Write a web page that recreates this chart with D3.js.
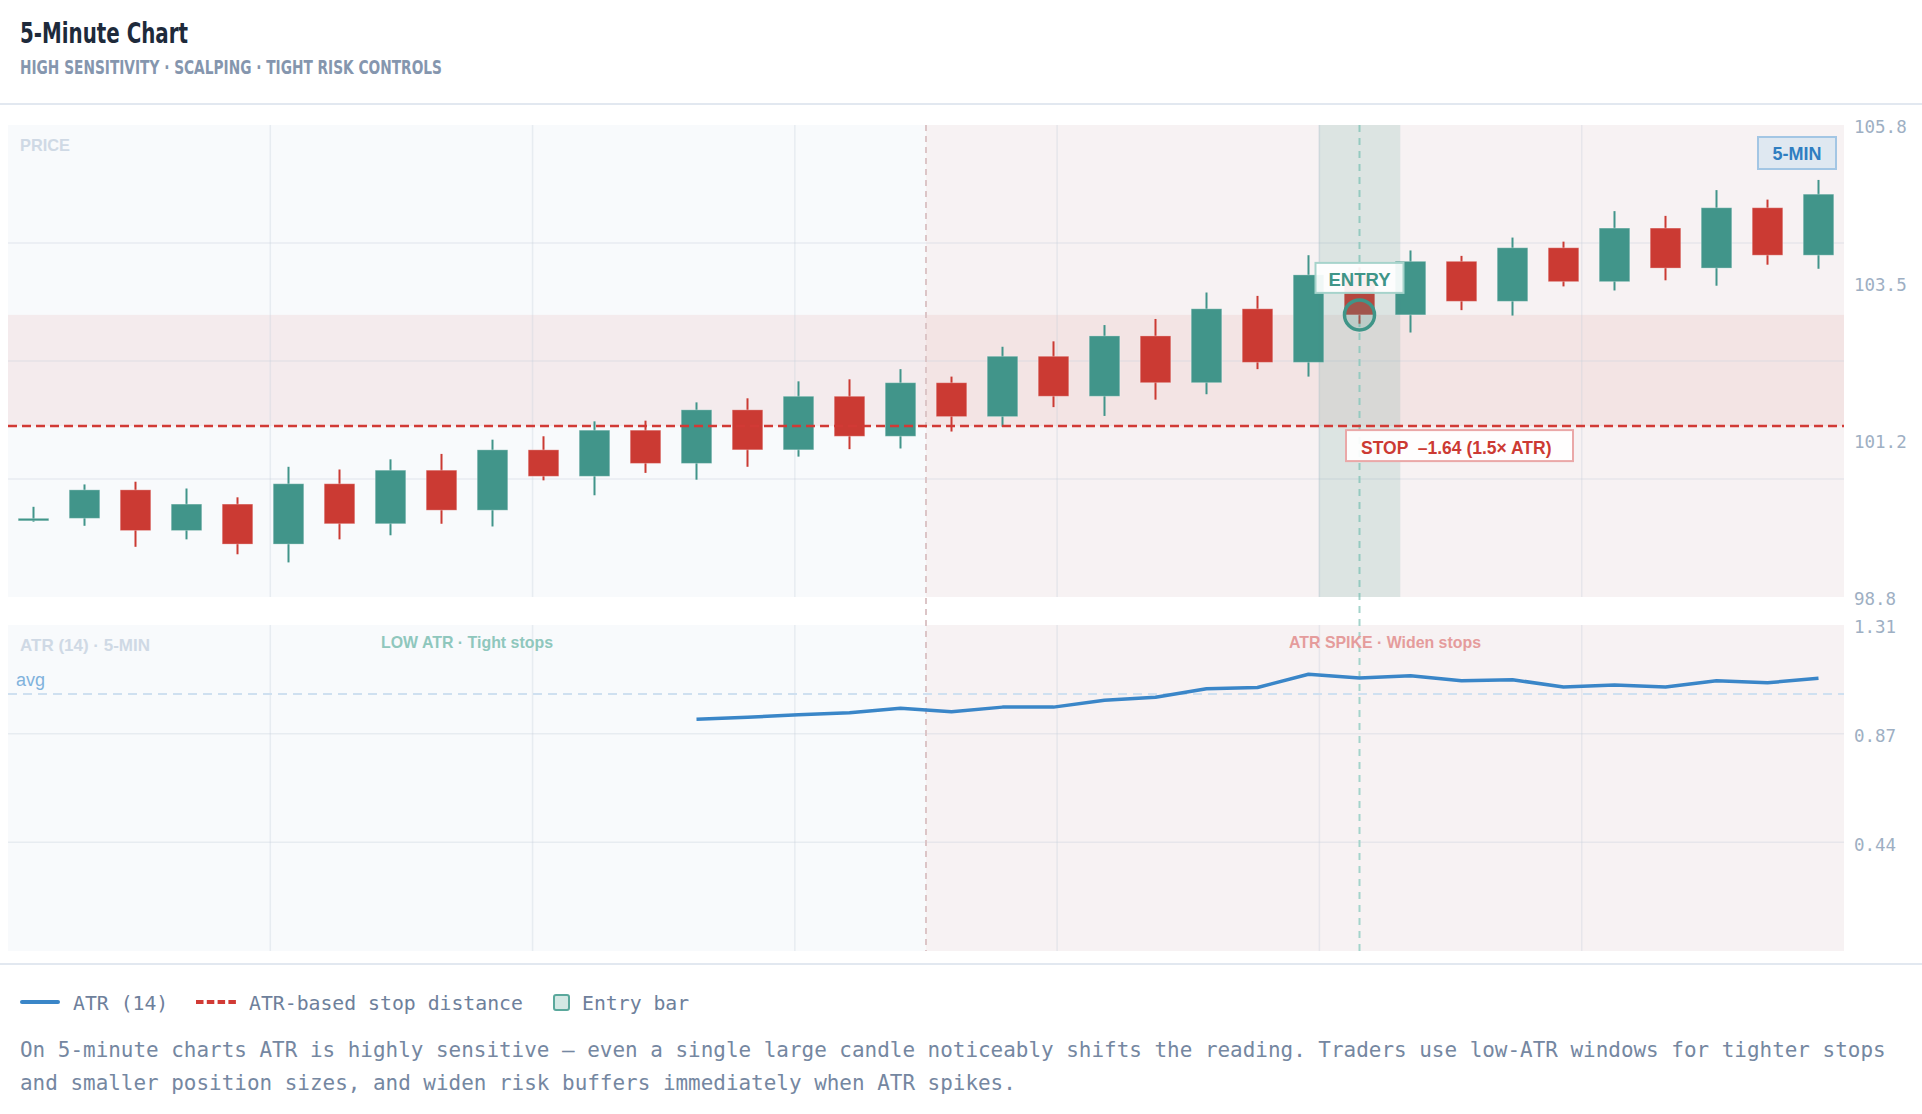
<!DOCTYPE html>
<html><head><meta charset="utf-8">
<script src="https://cdn.jsdelivr.net/npm/d3@7"></script>
<style>html,body{margin:0;padding:0;background:#fff;overflow:hidden}svg{display:block}</style>
</head><body><svg id="c" width="1922" height="1114"></svg>
<script>
// ---------- DATA ----------
const barIndex = [0,1,2,3,4,5,6,7,8,9,10,11,12,13,14,15,16,17,18,19,20,21,22,23,24,25,26,27,28,29,30,31,32,33,34,35];
const opens  = [100.00,100.00,100.42,99.82,100.21,99.62,100.51,99.92,100.71,100.12,101.01,100.62,101.30,100.81,101.60,101.01,101.80,101.21,102.00,101.50,102.39,101.80,102.69,102.00,103.09,102.30,103.59,103.00,103.79,103.20,103.99,103.49,104.28,103.69,104.58,103.88];
const highs  = [100.17,100.50,100.54,100.44,100.31,100.76,100.72,100.87,100.95,101.16,101.21,101.43,101.44,101.71,101.77,102.02,102.05,102.20,102.09,102.53,102.61,102.85,102.94,103.33,103.28,103.88,103.70,103.95,103.87,104.14,104.08,104.53,104.46,104.84,104.70,104.99];
const lows   = [99.95,99.89,99.58,99.69,99.47,99.35,99.69,99.75,99.92,99.88,100.56,100.34,100.67,100.57,100.76,100.91,101.02,101.03,101.28,101.35,101.64,101.51,101.75,101.83,102.20,102.09,102.87,102.74,103.07,102.99,103.42,103.36,103.51,103.43,103.74,103.68];
const closes = [100.00,100.42,99.82,100.21,99.62,100.51,99.92,100.71,100.12,101.01,100.62,101.30,100.81,101.60,101.01,101.80,101.21,102.00,101.50,102.39,101.80,102.69,102.00,103.09,102.30,103.59,103.00,103.79,103.20,103.99,103.49,104.28,103.69,104.58,103.88,104.78];
const atr14  = [null,null,null,null,null,null,null,null,null,null,null,null,null,0.931,0.939,0.949,0.957,0.975,0.961,0.980,0.980,1.008,1.020,1.054,1.059,1.112,1.097,1.106,1.086,1.090,1.061,1.069,1.061,1.086,1.078,1.096];
const priceDomain = [98.84, 105.8];
const priceTickLabels = ["105.8","103.5","101.2","98.8"];
const atrDomain = [0, 1.31];
const atrTickLabels = ["1.31","0.87","0.44"];
const entryIndex = 26;
const regimeStart = 18;
const entryPrice = 103.00;
const stopDistance = 1.64;
const atrMultiple = 1.5;
const legendItems = ["ATR (14)","ATR-based stop distance","Entry bar"];
const noteLines = [
  "On 5-minute charts ATR is highly sensitive — even a single large candle noticeably shifts the reading. Traders use low-ATR windows for tighter stops",
  "and smaller position sizes, and widen risk buffers immediately when ATR spikes."
];

// ---------- LAYOUT ----------
const L = 8, R = 1844, PT = 125, PB = 597, AT = 625, AB = 951;
const UP = "#41958a", DOWN = "#cb3a33", TEAL = "#3f9588", BLUE = "#3a86c8", STOPC = "#d13a35";
const SANS = "'Liberation Sans', Arial, sans-serif";
const NARROW = "'Liberation Sans Narrow','DejaVu Sans Condensed','Liberation Sans',sans-serif";
const MONO = "'DejaVu Sans Mono','Liberation Mono',monospace";

const svg = d3.select("#c");
const x = d3.scaleBand().domain(barIndex).range([L, R]).paddingInner(0.4).paddingOuter(0.2);
const step = x.step(), bw = x.bandwidth();
const cx = i => x(i) + bw / 2;
const edge = i => x(i) - (step - bw) / 2;
const yP = d3.scaleLinear().domain(priceDomain).range([PB, PT]);
const yA = d3.scaleLinear().domain(atrDomain).range([AB, AT]);
const gx = d3.scaleLinear().domain([0, 7]).range([L, R]);

// header
svg.append("text").attr("x", 20).attr("y", 43).text("5-Minute Chart")
  .attr("font-family", NARROW).attr("font-weight", 700).attr("font-size", 28)
  .attr("fill", "#1e2a3b").attr("textLength", 168).attr("lengthAdjust", "spacingAndGlyphs");
svg.append("text").attr("x", 20).attr("y", 74).text("HIGH SENSITIVITY · SCALPING · TIGHT RISK CONTROLS")
  .attr("font-family", NARROW).attr("font-weight", 700).attr("font-size", 19.5)
  .attr("fill", "#8596ae").attr("textLength", 422).attr("lengthAdjust", "spacingAndGlyphs");
svg.append("line").attr("x1", 0).attr("x2", 1922).attr("y1", 104).attr("y2", 104)
  .attr("stroke", "#e2e8f0").attr("stroke-width", 2);

// panel backgrounds
const xDiv = edge(regimeStart);
[[PT, PB], [AT, AB]].forEach(([t, b]) => {
  svg.append("rect").attr("x", L).attr("y", t).attr("width", xDiv - L).attr("height", b - t).attr("fill", "#f8fafc");
  svg.append("rect").attr("x", xDiv).attr("y", t).attr("width", R - xDiv).attr("height", b - t).attr("fill", "#f7f2f3");
});

// stop band
const stopPrice = entryPrice - stopDistance;
svg.append("rect").attr("x", L).attr("width", R - L)
  .attr("y", yP(entryPrice)).attr("height", yP(stopPrice) - yP(entryPrice))
  .attr("fill", "rgba(205,60,60,0.075)");

// grids
const gridC = "rgba(200,208,222,0.35)";
[[PT, PB], [AT, AB]].forEach(([t, b]) => {
  svg.append("g").selectAll("line").data([1,2,3,4,5,6]).join("line")
    .attr("x1", d => gx(d)).attr("x2", d => gx(d)).attr("y1", t).attr("y2", b)
    .attr("stroke", gridC).attr("stroke-width", 1.5);
});
const pq = [1,2,3].map(k => priceDomain[0] + k * (priceDomain[1] - priceDomain[0]) / 4);
svg.append("g").selectAll("line").data(pq).join("line")
  .attr("x1", L).attr("x2", R).attr("y1", d => yP(d)).attr("y2", d => yP(d))
  .attr("stroke", gridC).attr("stroke-width", 1.5);
const atrTicks = [3,2,1].map(k => atrDomain[1] * k / 3);
svg.append("g").selectAll("line").data(atrTicks.slice(1)).join("line")
  .attr("x1", L).attr("x2", R).attr("y1", d => yA(d)).attr("y2", d => yA(d))
  .attr("stroke", gridC).attr("stroke-width", 1.5);

// axes
const priceTicks = [3,2,1,0].map(k => priceDomain[0] + k * (priceDomain[1] - priceDomain[0]) / 3);
const ax1 = svg.append("g").attr("transform", `translate(${R},0)`)
  .call(d3.axisRight(yP).tickValues(priceTicks).tickFormat((d, i) => priceTickLabels[i]).tickSize(0).tickPadding(10));
const ax2 = svg.append("g").attr("transform", `translate(${R},0)`)
  .call(d3.axisRight(yA).tickValues(atrTicks).tickFormat((d, i) => atrTickLabels[i]).tickSize(0).tickPadding(10));
[ax1, ax2].forEach(a => {
  a.select(".domain").remove();
  a.selectAll("text").attr("font-family", MONO).attr("font-size", 17.5).attr("fill", "#9eafc3").attr("dy", "0.45em");
});

// vertical dashed markers
svg.append("line").attr("x1", xDiv).attr("x2", xDiv).attr("y1", PT).attr("y2", AB)
  .attr("stroke", "#dcc5c7").attr("stroke-width", 2).attr("stroke-dasharray", "6,5");
svg.append("line").attr("x1", cx(entryIndex)).attr("x2", cx(entryIndex)).attr("y1", PT).attr("y2", AB)
  .attr("stroke", "#a4d4cb").attr("stroke-width", 2).attr("stroke-dasharray", "7,6");

// candles
const candles = barIndex.map(i => ({ i, o: opens[i], h: highs[i], l: lows[i], c: closes[i] }));
const cg = svg.append("g");
cg.selectAll("line").data(candles).join("line")
  .attr("x1", d => cx(d.i)).attr("x2", d => cx(d.i))
  .attr("y1", d => yP(d.h)).attr("y2", d => yP(d.l))
  .attr("stroke", d => d.c >= d.o ? UP : DOWN).attr("stroke-width", 2);
cg.selectAll("rect").data(candles).join("rect")
  .attr("x", d => x(d.i)).attr("width", bw)
  .attr("y", d => yP(Math.max(d.o, d.c)))
  .attr("height", d => Math.max(2.5, Math.abs(yP(d.o) - yP(d.c))))
  .attr("fill", d => d.c >= d.o ? UP : DOWN)
  .attr("stroke", "rgba(255,255,255,0.3)").attr("stroke-width", 1);

// entry highlight
svg.append("rect").attr("x", cx(entryIndex) - 0.8 * step).attr("width", 1.6 * step)
  .attr("y", PT).attr("height", PB - PT).attr("fill", "rgba(66,148,136,0.15)");

// stop line
const yStop = yP(stopPrice);
svg.append("line").attr("x1", L).attr("x2", R).attr("y1", yStop).attr("y2", yStop)
  .attr("stroke", STOPC).attr("stroke-width", 2.5).attr("stroke-dasharray", "9,5");

// entry marker
const ex = cx(entryIndex), ey = yP(entryPrice);
svg.append("circle").attr("cx", ex).attr("cy", ey).attr("r", 15)
  .attr("fill", "rgba(66,148,136,0.18)").attr("stroke", TEAL).attr("stroke-width", 3.5);
svg.append("rect").attr("x", ex - 44).attr("y", ey - 52).attr("width", 88).attr("height", 30)
  .attr("fill", "rgba(255,255,255,0.92)").attr("stroke", "#a6d3cb").attr("stroke-width", 2);
svg.append("text").attr("x", ex).attr("y", ey - 28.5).attr("text-anchor", "middle").text("ENTRY")
  .attr("font-family", SANS).attr("font-weight", 700).attr("font-size", 18.5).attr("fill", TEAL);

// stop label
svg.append("rect").attr("x", ex - 13.5).attr("y", yStop + 4).attr("width", 227).attr("height", 31)
  .attr("fill", "rgba(255,255,255,0.92)").attr("stroke", "#eaa8a8").attr("stroke-width", 2);
svg.append("text").attr("x", ex + 1.5).attr("y", yStop + 28).style("white-space", "pre")
  .text(`STOP  –${stopDistance.toFixed(2)} (${atrMultiple}× ATR)`)
  .attr("font-family", SANS).attr("font-weight", 700).attr("font-size", 17.5).attr("fill", "#cc3a33");

// 5-MIN badge
svg.append("rect").attr("x", R - 86).attr("y", PT + 12).attr("width", 78).attr("height", 32)
  .attr("fill", "#dfe8f1").attr("stroke", "#a3c6e4").attr("stroke-width", 2);
svg.append("text").attr("x", R - 47).attr("y", PT + 34.5).attr("text-anchor", "middle").text("5-MIN")
  .attr("font-family", SANS).attr("font-weight", 700).attr("font-size", 18).attr("fill", "#2f7ec1");

// panel labels
function label(t, xx, yy, fill, len, anchor) {
  svg.append("text").attr("x", xx).attr("y", yy).text(t).attr("text-anchor", anchor || "start")
    .attr("font-family", SANS).attr("font-weight", 700).attr("font-size", 17).attr("fill", fill)
    .attr("textLength", len).attr("lengthAdjust", "spacingAndGlyphs");
}
label("PRICE", 20, 151, "#cfd9e5", 50);
label("ATR (14) · 5-MIN", 20, 651, "#cfd9e5", 130);
label("LOW ATR · Tight stops", (L + xDiv) / 2, 648, "#8fc7bd", 172, "middle");
label("ATR SPIKE · Widen stops", (xDiv + R) / 2, 648, "#e59c9c", 192, "middle");

// ATR avg
const vals = atr14.filter(v => v != null);
const avg = d3.mean(vals);
svg.append("line").attr("x1", L).attr("x2", R).attr("y1", yA(avg)).attr("y2", yA(avg))
  .attr("stroke", "#cfe0f0").attr("stroke-width", 2).attr("stroke-dasharray", "9,6");
svg.append("text").attr("x", 16).attr("y", yA(avg) - 8).text("avg")
  .attr("font-family", SANS).attr("font-size", 18).attr("fill", "#80b2dc");

// ATR line
const line = d3.line().defined(d => d.v != null).x(d => cx(d.i)).y(d => yA(d.v));
svg.append("path").datum(barIndex.map(i => ({ i, v: atr14[i] })))
  .attr("d", line).attr("fill", "none").attr("stroke", BLUE).attr("stroke-width", 3.5)
  .attr("stroke-linejoin", "round");

// legend
svg.append("line").attr("x1", 0).attr("x2", 1922).attr("y1", 964).attr("y2", 964)
  .attr("stroke", "#e2e8f0").attr("stroke-width", 2);
const LY = 1002;
svg.append("line").attr("x1", 22).attr("x2", 58).attr("y1", LY).attr("y2", LY)
  .attr("stroke", BLUE).attr("stroke-width", 4).attr("stroke-linecap", "round");
svg.append("line").attr("x1", 196).attr("x2", 236).attr("y1", LY).attr("y2", LY)
  .attr("stroke", STOPC).attr("stroke-width", 4).attr("stroke-dasharray", "7.5,3.3");
svg.append("rect").attr("x", 554).attr("y", 995).attr("width", 15).attr("height", 15).attr("rx", 2)
  .attr("fill", "#d3e8e4").attr("stroke", "#5aa89c").attr("stroke-width", 2);
[[73, legendItems[0]], [249, legendItems[1]], [582, legendItems[2]]].forEach(([xx, t]) => {
  svg.append("text").attr("x", xx).attr("y", 1010).text(t)
    .attr("font-family", MONO).attr("font-size", 19.8).attr("fill", "#6e809b");
});

// note
noteLines.forEach((t, k) => {
  svg.append("text").attr("x", 20).attr("y", 1057 + k * 32.5).text(t)
    .attr("font-family", MONO).attr("font-size", 20.94).attr("fill", "#7587a1");
});
</script>
</body></html>
